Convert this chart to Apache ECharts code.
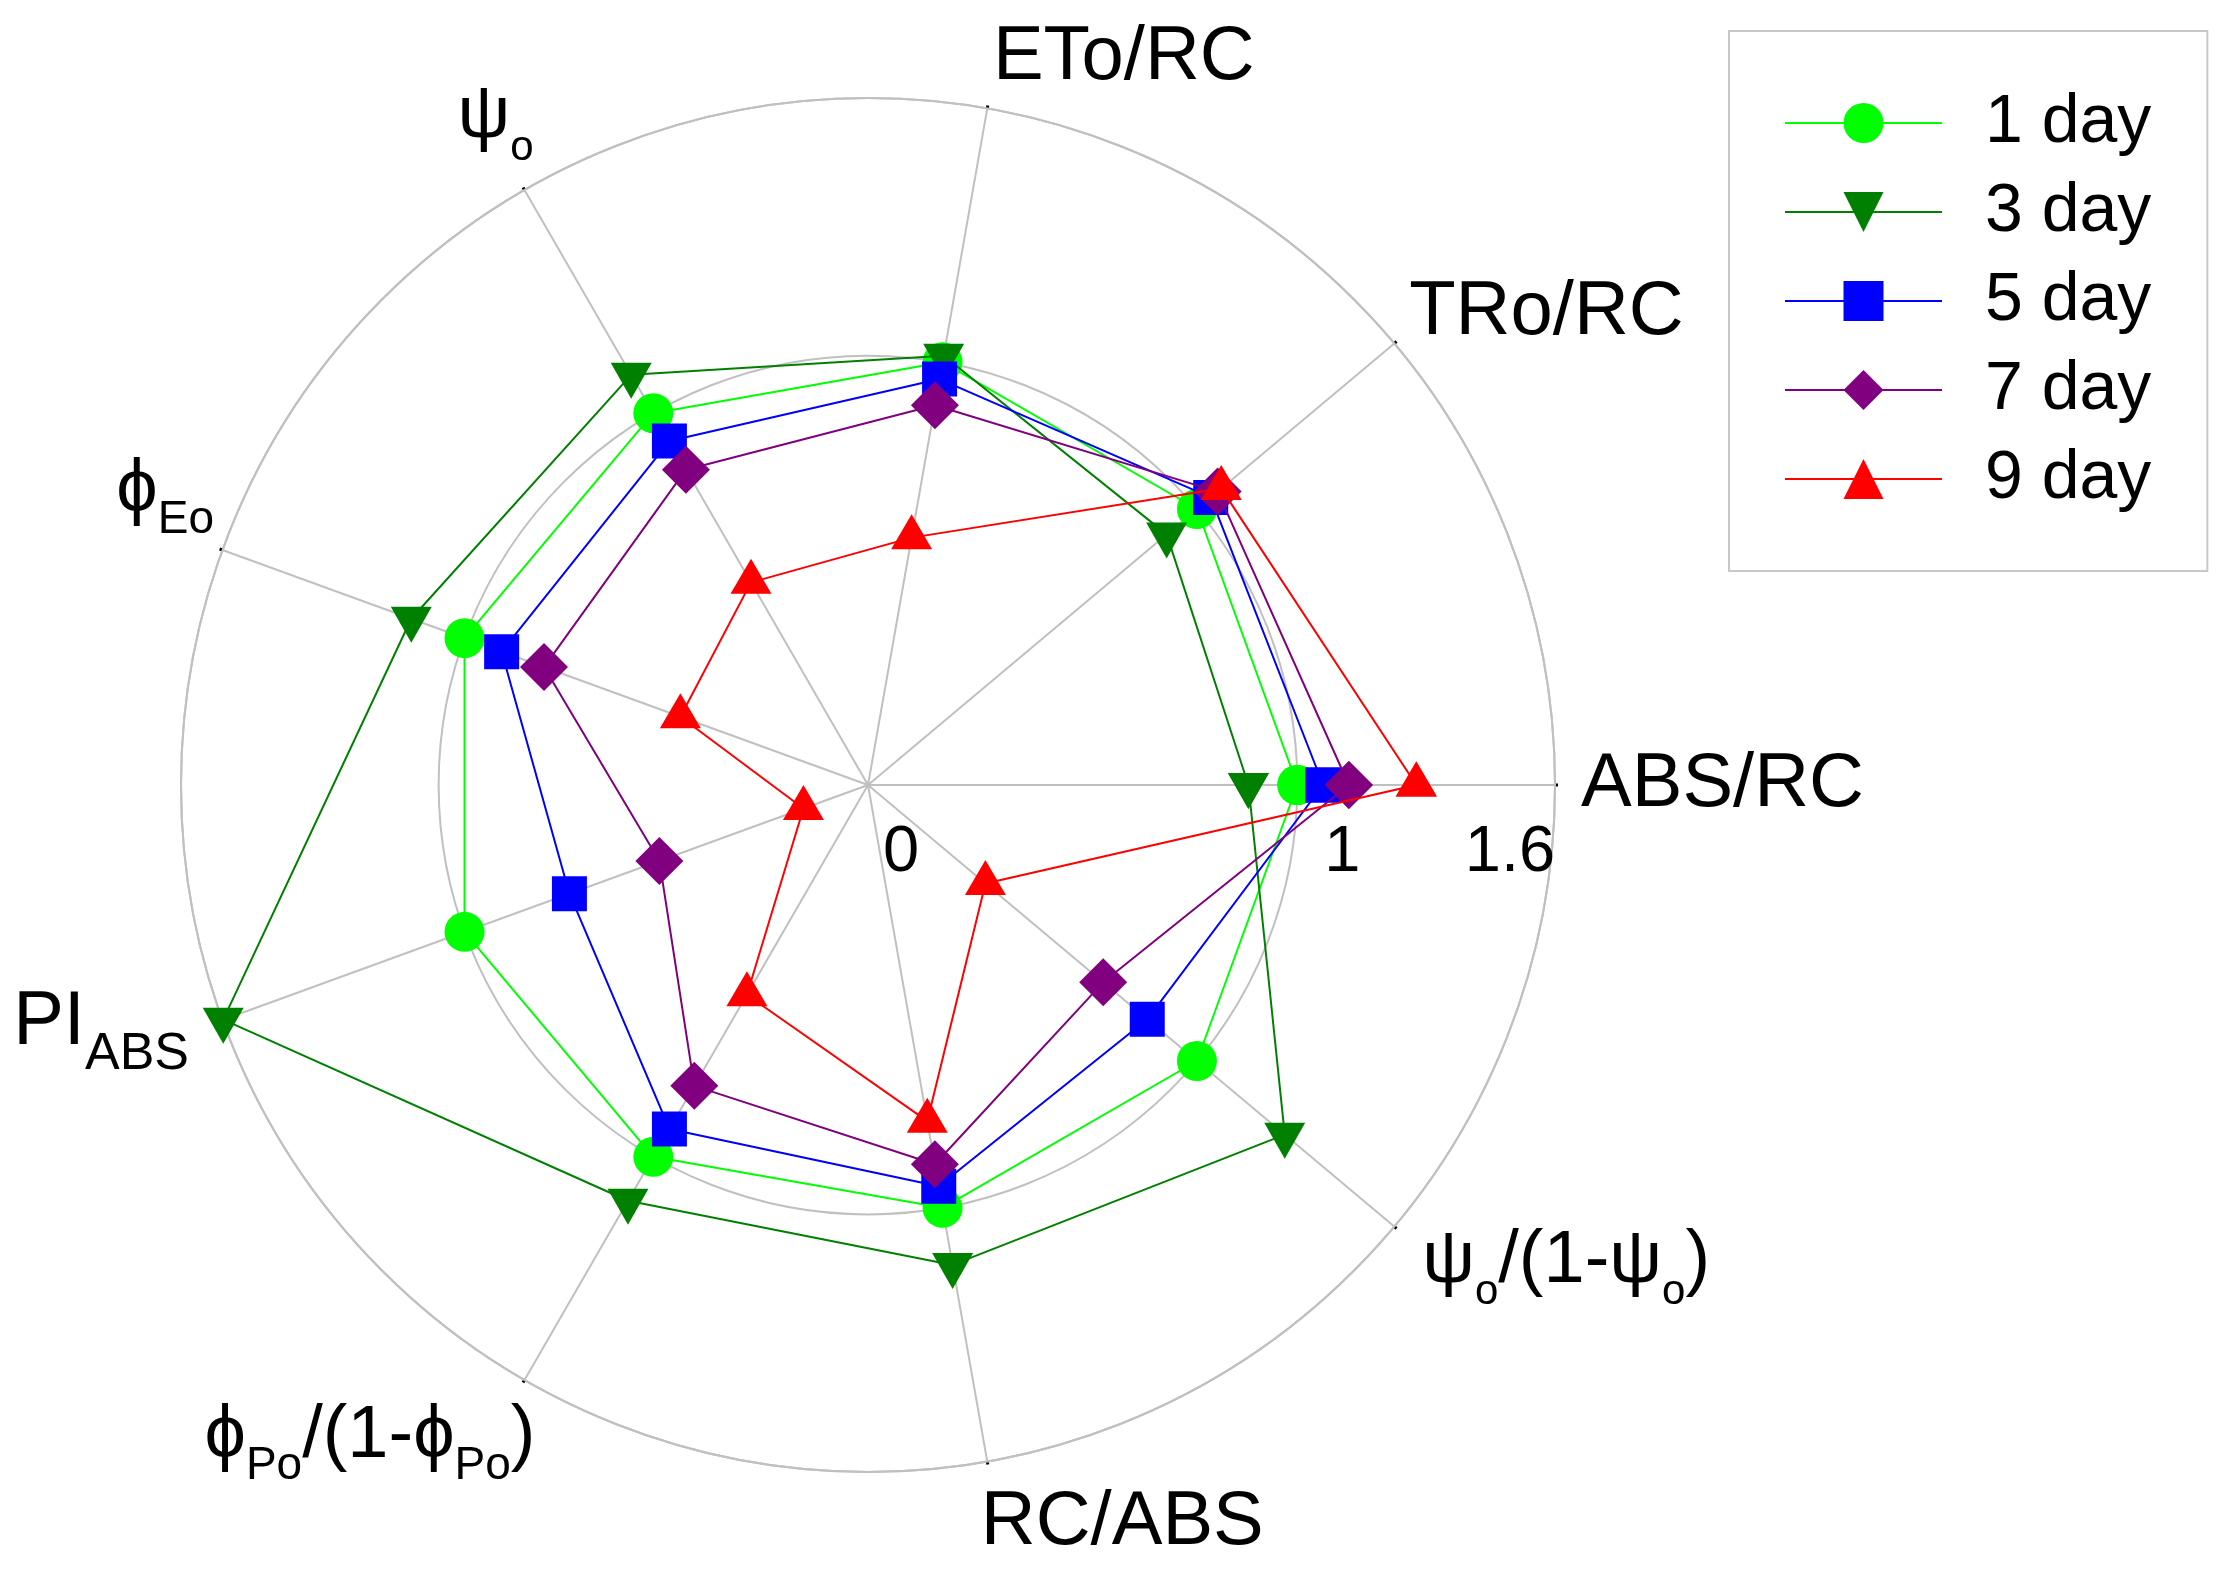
<!DOCTYPE html>
<html>
<head>
<meta charset="utf-8">
<script src="https://cdn.jsdelivr.net/npm/echarts@6/dist/echarts.min.js"></script>
<style>
html,body{margin:0;padding:0;background:#fff;}
#chart{width:2239px;height:1584px;}
</style>
</head>
<body>
<div id="chart"></div>
<script>
// ---------- data ----------
const categories = ['ABS/RC', 'TRo/RC', 'ETo/RC', 'ψ_o', 'ϕ_Eo', 'PI_ABS', 'ϕ_Po/(1-ϕ_Po)', 'RC/ABS', 'ψ_o/(1-ψ_o)'];
const seriesNames = ['1 day', '3 day', '5 day', '7 day', '9 day'];
const day1 = [1.00, 1.00, 1.00, 1.00, 1.00, 1.00, 1.00, 1.00, 1.00];
const day3 = [0.886, 0.908, 1.015, 1.103, 1.132, 1.598, 1.118, 1.135, 1.267];
const day5 = [1.06, 1.042, 0.96, 0.925, 0.908, 0.74, 0.925, 0.949, 0.849];
const day7 = [1.12, 1.063, 0.898, 0.848, 0.803, 0.517, 0.809, 0.897, 0.715];
const day9 = [1.277, 1.074, 0.585, 0.545, 0.465, 0.160, 0.564, 0.795, 0.357];
const radiusTickLabels = [0, 1, 1.6];
const radiusMax = 1.6;

// ---------- styles ----------
const FONT = '"Liberation Sans", Arial, sans-serif';
const colors = ['#00FF00', '#008000', '#0000FF', '#800080', '#FF0000'];
const symbols = ['circle', 'path://M0,0 L10,0 L5,8.7 Z', 'rect', 'diamond', 'triangle'];
const symbolSizes = [40, [41, 36], 35, 48, [41, 35]];
const symbolOffsets = [[0, 0], [0, 6], [0, 0], [0, 0], [0, -6]];
const allSeries = [day1, day3, day5, day7, day9];
const step = 360 / categories.length;

// per-label text layout (font, subscript font, line height, paddings)
const nameStyle = [
  {fs: 76, sfs: 40, L: 76, padL: 0,    padR: 0,     pb: 0,  subPt: 0},
  {fs: 76, sfs: 40, L: 28, padL: -5,   padR: 0,     pb: 0,  subPt: 0},
  {fs: 76, sfs: 40, L: 50, padL: 264,  padR: 0,     pb: 0,  subPt: 0},
  {fs: 74, sfs: 42, L: 101, padL: 0,   padR: -22,   pb: 0,  subPt: 62},
  {fs: 74, sfs: 46, L: 101, padL: 0,   padR: -16,   pb: 0,  subPt: 59},
  {fs: 76, sfs: 52, L: 2,  padL: 0,    padR: 9,     pb: 14, subPt: 63},
  {fs: 74, sfs: 46, L: 68, padL: 0,    padR: -24,   pb: 0,  subPt: 59},
  {fs: 76, sfs: 40, L: 71, padL: 261,  padR: 0,     pb: 0,  subPt: 0},
  {fs: 74, sfs: 42, L: 36, padL: 8,    padR: 0,     pb: 0,  subPt: 62}
];

const angleRich = {};
const angleMarkup = categories.map(function (cat, i) {
  const parts = cat.split(/_([A-Za-z]+)/);
  const toks = [];
  parts.forEach(function (t, j) { if (t) toks.push({text: t, sub: j % 2 === 1}); });
  const st = nameStyle[i];
  return toks.map(function (tk, j) {
    const key = 'k' + i + '_' + j;
    angleRich[key] = {
      fontFamily: FONT,
      color: '#000',
      fontSize: tk.sub ? st.sfs : st.fs,
      lineHeight: st.L,
      verticalAlign: 'middle',
      padding: [tk.sub ? st.subPt : 0, j === toks.length - 1 ? st.padR : 0, st.pb, j === 0 ? st.padL : 0]
    };
    return '{' + key + '|' + tk.text + '}';
  }).join('');
});

const radiusRich = {
  r0: {fontFamily: FONT, color: '#000', fontSize: 65, lineHeight: 65, padding: [0, 0, 0, 66]},
  r1: {fontFamily: FONT, color: '#000', fontSize: 65, lineHeight: 65, padding: [0, 0, 0, 90]},
  r2: {fontFamily: FONT, color: '#000', fontSize: 65, lineHeight: 65, padding: [0, 90, 0, 0]}
};

const grey = '#c0c0c0';
const T = 'rgba(0,0,0,0)';

const series = allSeries.map(function (vals, s) {
  const data = vals.map(function (v, i) { return [v, i * step]; });
  data.push([vals[0], 360]);
  return {
    name: seriesNames[s],
    type: 'line',
    coordinateSystem: 'polar',
    data: data,
    symbol: symbols[s],
    symbolSize: symbolSizes[s],
    symbolOffset: symbolOffsets[s],
    symbolKeepAspect: false,
    showSymbol: true,
    lineStyle: {color: colors[s], width: 2},
    itemStyle: {color: colors[s]},
    emphasis: {disabled: true},
    z: 3 + s
  };
});

const chart = echarts.init(document.getElementById('chart'), null, {renderer: 'canvas'});
chart.setOption({
  animation: false,
  backgroundColor: '#ffffff',
  polar: {center: [868, 785], radius: 687},
  angleAxis: {
    type: 'value', min: 0, max: 360, interval: step, startAngle: 0, clockwise: false,
    axisLine: {show: true, lineStyle: {color: grey, width: 2}},
    axisTick: {show: true, length: 3, lineStyle: {color: '#000', width: 3}},
    splitLine: {show: true, lineStyle: {color: grey, width: 2}},
    axisLabel: {
      show: true, margin: 26,
      formatter: function (v) {
        const i = Math.round(v / step);
        return i < categories.length ? angleMarkup[i] : '';
      },
      rich: angleRich
    }
  },
  radiusAxis: {
    type: 'value', min: 0, max: radiusMax, interval: 0.2,
    axisLine: {show: false}, axisTick: {show: false},
    splitLine: {show: true, lineStyle: {width: 2, color: [T, T, T, T, T, grey, T, T, grey]}},
    axisLabel: {
      show: true, margin: -101,
      formatter: function (v) {
        const k = radiusTickLabels.findIndex(function (t) { return Math.abs(t - v) < 1e-6; });
        return k < 0 ? '' : '{r' + k + '|' + radiusTickLabels[k] + '}';
      },
      rich: radiusRich
    }
  },
  legend: {
    orient: 'vertical', left: 1729, top: 31,
    padding: [58, 56, 58, 55],
    itemWidth: 157, itemHeight: 50, itemGap: 21,
    borderColor: '#c8c8c8', borderWidth: 2,
    selectedMode: false,
    data: seriesNames,
    formatter: function (n) { return '{a|' + n + '}'; },
    textStyle: {
      rich: {a: {fontFamily: FONT, fontSize: 68, color: '#000', lineHeight: 68, padding: [0, 0, 0, 38]}}
    }
  },
  series: series
});
</script>
</body>
</html>
